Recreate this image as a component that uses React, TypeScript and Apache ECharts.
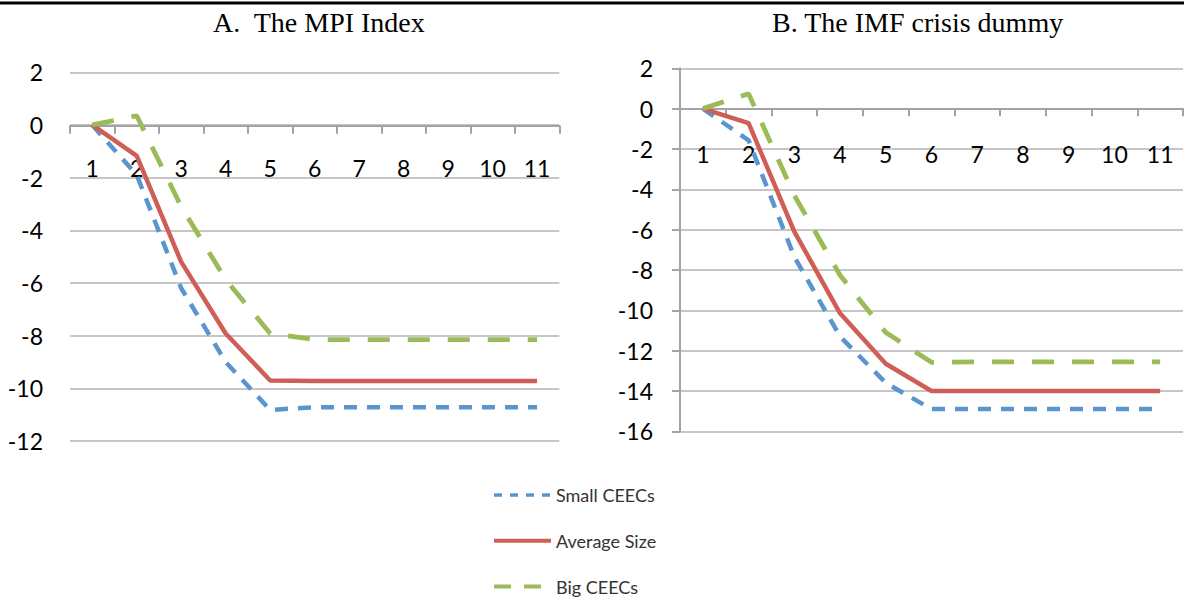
import React, { useEffect, useRef } from "react";
import * as echarts from "echarts";

const categories = ["1", "2", "3", "4", "5", "6", "7", "8", "9", "10", "11"];

const mpiSmall = [0, -1.9, -6.2, -9.0, -10.82, -10.72, -10.72, -10.72, -10.72, -10.72, -10.72];
const mpiAverage = [0, -1.17, -5.2, -7.92, -9.7, -9.72, -9.72, -9.72, -9.72, -9.72, -9.72];
const mpiBig = [0, 0.35, -3.1, -5.87, -7.92, -8.15, -8.15, -8.15, -8.15, -8.15, -8.15];

const imfSmall = [0, -1.57, -7.35, -11.3, -13.6, -14.9, -14.9, -14.9, -14.9, -14.9, -14.9];
const imfAverage = [0, -0.72, -6.1, -10.15, -12.65, -14.0, -14.0, -14.0, -14.0, -14.0, -14.0];
const imfBig = [0, 0.74, -4.3, -8.26, -11.1, -12.58, -12.56, -12.56, -12.56, -12.56, -12.56];

const seriesNames = ["Small CEECs", "Average Size", "Big CEECs"];
const panelTitles = ["A.  The MPI Index", "B. The IMF crisis dummy"];

const BLUE = "#5B95D0";
const RED = "#CF5E57";
const GREEN = "#9BBB59";
const AXIS = "#a3a3a3";
const GRIDC = "#b3b3b3";
const FONT = "Lato";

export default function App() {
  const ref = useRef<HTMLDivElement>(null);

  useEffect(() => {
    if (!ref.current) return;
    const chart = echarts.init(ref.current, null, { renderer: "svg" });

    const lineSeries = (name: string, data: number[], idx: number) => {
      const style: any =
        name === seriesNames[0]
          ? { color: BLUE, width: 4.5, type: [13, 10] }
          : name === seriesNames[1]
          ? { color: RED, width: 4.5, type: "solid" }
          : { color: GREEN, width: 4.8, type: [22, 18] };
      return {
        name,
        type: "line",
        xAxisIndex: idx,
        yAxisIndex: idx,
        data,
        symbol: "none",
        showSymbol: false,
        itemStyle: { color: style.color },
        lineStyle: style,
      };
    };

    const xAxisBase = (idx: number, margin: number, offset: number) => ({
      gridIndex: idx,
      type: "category",
      data: categories,
      boundaryGap: true,
      offset,
      axisLine: { onZero: false, lineStyle: { color: AXIS, width: 2 } },
      axisTick: { show: true, length: 8, lineStyle: { color: AXIS, width: 2 } },
      axisLabel: { margin, fontFamily: FONT, fontSize: 23, color: "#000" },
      splitLine: { show: false },
    });

    const option: any = {
      animation: false,
      backgroundColor: "#ffffff",
      title: [
        {
          text: panelTitles[0],
          left: 213,
          top: 8,
          padding: 0,
          textStyle: { fontFamily: "Liberation Serif", fontSize: 28, fontWeight: "normal", color: "#000" },
        },
        {
          text: panelTitles[1],
          left: 772,
          top: 8,
          padding: 0,
          textStyle: { fontFamily: "Liberation Serif", fontSize: 28, fontWeight: "normal", color: "#000" },
        },
      ],
      graphic: [
        {
          type: "line",
          shape: { x1: 0, y1: 3, x2: 1184, y2: 3 },
          style: { stroke: "#000", lineWidth: 3 },
        },
      ],
      legend: {
        orient: "vertical",
        left: 492,
        top: 485,
        padding: 0,
        itemWidth: 57,
        itemHeight: 20,
        itemGap: 25.8,
        itemStyle: { opacity: 0 },
        textStyle: { fontFamily: FONT, fontSize: 18, lineHeight: 20, color: "#333" },
        data: [
          { name: seriesNames[0], itemStyle: { opacity: 0 }, lineStyle: { color: BLUE, width: 3.5, type: [8, 8] } },
          { name: seriesNames[1], itemStyle: { opacity: 0 }, lineStyle: { color: RED, width: 4, type: "solid" } },
          { name: seriesNames[2], itemStyle: { opacity: 0 }, lineStyle: { color: GREEN, width: 4, type: [17, 13] } },
        ],
      },
      grid: [
        { left: 70, top: 72.3, width: 489.3, height: 368.7 },
        { left: 680, top: 68.3, width: 503, height: 363 },
      ],
      xAxis: [xAxisBase(0, 31, -315.3), xAxisBase(1, 34, -323)],
      yAxis: [
        {
          gridIndex: 0,
          type: "value",
          min: -12,
          max: 2,
          interval: 2,
          axisLine: { show: false },
          axisTick: { show: false },
          axisLabel: { margin: 27, fontFamily: FONT, fontSize: 23, color: "#000" },
          splitLine: { show: true, lineStyle: { color: GRIDC, width: 1.5 } },
        },
        {
          gridIndex: 1,
          type: "value",
          min: -16,
          max: 2,
          interval: 2,
          axisLine: { show: true, lineStyle: { color: AXIS, width: 2 } },
          axisTick: { show: true, length: 8, lineStyle: { color: AXIS, width: 2 } },
          axisLabel: { margin: 27, fontFamily: FONT, fontSize: 23, color: "#000" },
          splitLine: { show: true, lineStyle: { color: GRIDC, width: 1.5 } },
        },
      ],
      series: [
        lineSeries(seriesNames[0], mpiSmall, 0),
        lineSeries(seriesNames[1], mpiAverage, 0),
        lineSeries(seriesNames[2], mpiBig, 0),
        lineSeries(seriesNames[0], imfSmall, 1),
        lineSeries(seriesNames[1], imfAverage, 1),
        lineSeries(seriesNames[2], imfBig, 1),
      ],
    };

    chart.setOption(option);
    return () => chart.dispose();
  }, []);

  return (
    <div
      ref={ref}
      style={{ position: "fixed", left: 0, top: 0, width: 1184, height: 601, background: "#fff" }}
    />
  );
}
